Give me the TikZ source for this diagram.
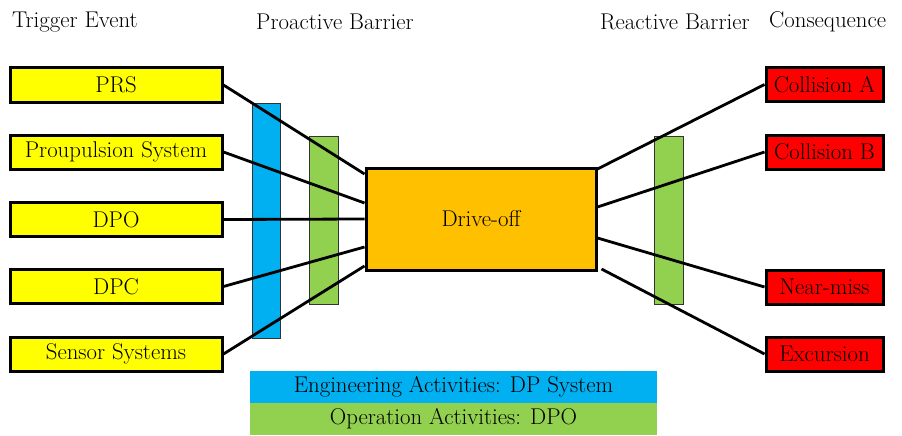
\documentclass[tikz,border=0pt]{standalone}
\definecolor{cyel}{RGB}{255,255,0}
\definecolor{cblue}{RGB}{0,176,240}
\definecolor{cgreen}{RGB}{146,208,80}
\definecolor{corange}{RGB}{255,192,0}
\definecolor{cred}{RGB}{255,0,0}
\begin{document}
\begin{tikzpicture}[x=1pt,y=-1pt,
  every node/.style={font=\rmfamily\fontsize{22.8}{26}\selectfont, inner sep=0pt},
  trig/.style={draw=black, line width=3pt, fill=cyel, minimum width=212pt, minimum height=34pt},
  cons/.style={draw=black, line width=3pt, fill=cred, minimum width=117pt, minimum height=34pt},
  bar/.style={draw=black!80, line width=1pt},
  link/.style={line width=2.8pt, black},
  hdr/.style={anchor=west}]
\useasboundingbox (0,0) rectangle (902,436);
% headers
\node[hdr] (h1) at (12,22) {Trigger Event};
\node[hdr] (h2) at (256,22) {Proactive Barrier};
\node[hdr] (h3) at (600,22) {Reactive Barrier};
\node[hdr] (h4) at (769,22) {Consequence};
% barriers
\node[bar, fill=cblue, minimum width=28pt, minimum height=235pt] (b1) at (266,220.5) {};
\node[bar, fill=cgreen, minimum width=29pt, minimum height=168pt] (b2) at (323.5,220) {};
\node[bar, fill=cgreen, minimum width=29pt, minimum height=168pt] (b3) at (668.5,220) {};
% trigger events
\node[trig] (t1) at (116,85) {PRS};
\node[trig] (t2) at (116,152) {Proupulsion System};
\node[trig] (t3) at (116,219.5) {DPO};
\node[trig] (t4) at (116,286.5) {DPC};
\node[trig] (t5) at (116,354) {Sensor Systems};
% top event
\node[draw=black, line width=3pt, fill=corange, minimum width=230pt, minimum height=102pt] (d) at (481,219) {Drive-off};
% consequences
\node[cons] (c1) at (824.5,84.5) {Collision A};
\node[cons] (c2) at (824.5,152) {Collision B};
\node[cons] (c3) at (824.5,287) {Near-miss};
\node[cons] (c4) at (824.5,354) {Excursion};
% connectors
\draw[link] (t1.east) -- ([yshift=45pt]d.west);
\draw[link] (t2.east) -- ([yshift=16pt]d.west);
\draw[link] (t3.east) -- (d.west);
\draw[link] (t4.east) -- ([yshift=-28pt]d.west);
\draw[link] (t5.east) -- ([yshift=-47pt]d.west);
\draw[link] ([yshift=50pt]d.east) -- (c1.west);
\draw[link] ([yshift=12pt]d.east) -- (c2.west);
\draw[link] ([yshift=-19pt]d.east) -- (c3.west);
\draw[link] ([yshift=-50pt,xshift=4pt]d.east) -- (c4.west);
% legend
\node[fill=cblue, minimum width=407pt, minimum height=32pt] (l1) at (453.5,387) {Engineering Activities: DP System};
\node[fill=cgreen, minimum width=407pt, minimum height=32pt] (l2) at (453.5,419) {Operation Activities: DPO};
\end{tikzpicture}
\end{document}
